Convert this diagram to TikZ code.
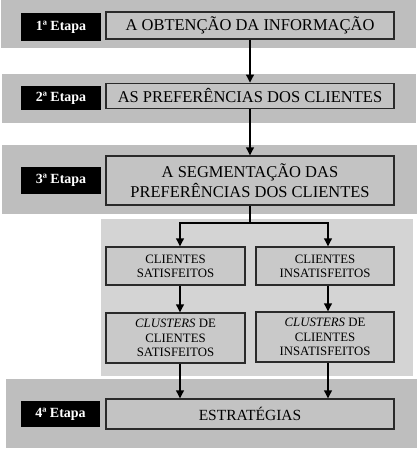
\documentclass[tikz,border=0pt]{standalone}
\usepackage{fontspec}
\setmainfont{Liberation Serif}
\usetikzlibrary{arrows.meta}
\definecolor{band}{HTML}{BEBEBE}
\definecolor{panel}{HTML}{D4D4D4}
\definecolor{boxfill}{HTML}{C3C3C3}
\definecolor{subfill}{HTML}{C9C9C9}
\definecolor{edge}{HTML}{2A2A2A}
\tikzset{
  etapa/.style={fill=black, text=white, inner sep=0pt, minimum width=80pt,
    font=\bfseries\fontsize{14}{16}\selectfont},
  mainbox/.style={draw=edge, line width=1.1pt, fill=boxfill, inner sep=0pt,
    minimum width=288pt, align=center, font=\fontsize{16.5}{20}\selectfont},
  subbox/.style={draw=edge, line width=1.1pt, fill=subfill, inner sep=0pt,
    minimum width=138pt, align=center, font=\fontsize{12.8}{14.3}\selectfont},
  arr/.style={line width=2pt, -{Triangle[length=8pt,width=7.5pt]}},
}
\begin{document}
\begin{tikzpicture}[x=1pt,y=-1pt]
\useasboundingbox (0,0) rectangle (418,449);
% background bands
\fill[band] (1,0) rectangle (416,48);
\fill[band] (2,74) rectangle (416,123);
\fill[band] (2,145) rectangle (417,214);
\fill[panel] (101,219) rectangle (413,376);
\fill[band] (6,379) rectangle (417,448);
% stage labels
\node[etapa, minimum height=28pt] (e1) at (61,27) {1ª Etapa};
\node[etapa, minimum height=24pt] (e2) at (61,98) {2ª Etapa};
\node[etapa, minimum height=27pt] (e3) at (61,180.5) {3ª Etapa};
\node[etapa, minimum height=26pt, minimum width=79pt] (e4) at (60.5,414) {4ª Etapa};
% main boxes
\node[mainbox, minimum height=27pt] (b1) at (250,25.5) {A OBTENÇÃO DA INFORMAÇÃO};
\node[mainbox, minimum height=25pt] (b2) at (250,95.75) {AS PREFERÊNCIAS DOS CLIENTES};
\node[mainbox, minimum height=49pt] (b3) at (250,180.5) {A SEGMENTAÇÃO DAS\\PREFERÊNCIAS DOS CLIENTES};
\node[mainbox, minimum height=30pt, font=\fontsize{15.5}{18}\selectfont] (b4) at (250,414) {ESTRATÉGIAS};
% sub boxes
\node[subbox, minimum width=139pt, minimum height=38pt] (l1) at (175.5,266) {CLIENTES\\SATISFEITOS};
\node[subbox, minimum height=38pt] (r1) at (325,266) {CLIENTES\\INSATISFEITOS};
\node[subbox, minimum width=139pt, minimum height=50pt] (l2) at (175.5,338) {\textit{CLUSTERS} DE\\CLIENTES\\SATISFEITOS};
\node[subbox, minimum height=50pt] (r2) at (325,337) {\textit{CLUSTERS} DE\\CLIENTES\\INSATISFEITOS};
% connectors
\coordinate (br) at (250,223);
\draw[arr] (b1) -- (b2);
\draw[arr] (b2) -- (b3);
\draw[arr] (b3.south) -- (br) -| ([xshift=4.5pt]l1.north);
\draw[arr] (br) -| ([xshift=3pt]r1.north);
\draw[arr] ([xshift=4.5pt]l1.south) -- ([xshift=4.5pt]l2.north);
\draw[arr] ([xshift=3pt]r1.south) -- ([xshift=3pt]r2.north);
\draw[arr] ([xshift=4.5pt]l2.south) -- ([xshift=4.5pt]l2.south |- b4.north);
\draw[arr] ([xshift=3pt]r2.south) -- ([xshift=3pt]r2.south |- b4.north);
\end{tikzpicture}
\end{document}
